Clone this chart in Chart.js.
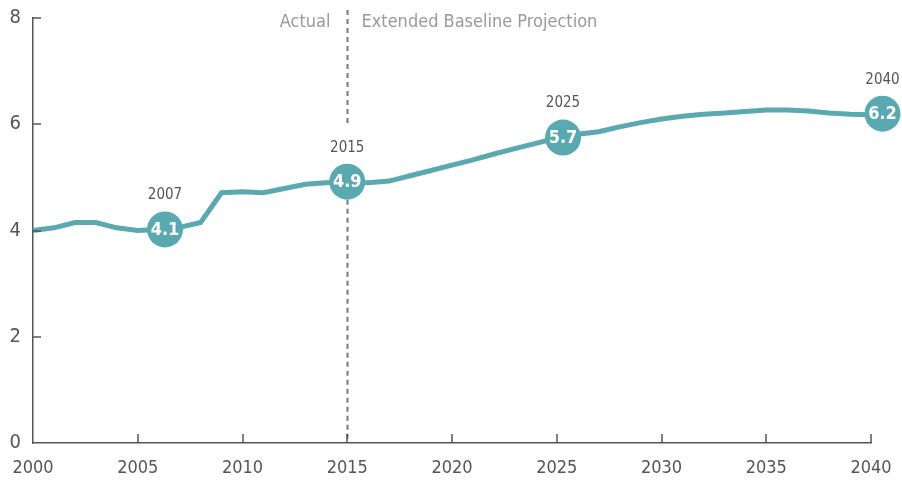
<!DOCTYPE html>
<html>
<head>
<meta charset="utf-8">
<script src="https://cdn.jsdelivr.net/npm/chart.js@4"></script>
<style>
  html, body { margin: 0; padding: 0; background: #fff; }
  #wrap { width: 902px; height: 482px; }
</style>
</head>
<body>
<div id="wrap"><canvas id="grafico" width="902" height="482"></canvas></div>
<script>
const anos = [2000, 2001, 2002, 2003, 2004, 2005, 2006, 2007, 2008, 2009,
              2010, 2011, 2012, 2013, 2014, 2015, 2016, 2017, 2018, 2019,
              2020, 2021, 2022, 2023, 2024, 2025, 2026, 2027, 2028, 2029,
              2030, 2031, 2032, 2033, 2034, 2035, 2036, 2037, 2038, 2039, 2040];
const valores = [4.00, 4.05, 4.15, 4.15, 4.05, 4.00, 4.02, 4.06, 4.15, 4.71,
                 4.73, 4.71, 4.79, 4.87, 4.90, 4.92, 4.90, 4.93, 5.03, 5.13,
                 5.23, 5.33, 5.44, 5.54, 5.64, 5.74, 5.81, 5.86, 5.95, 6.03,
                 6.10, 6.15, 6.19, 6.21, 6.24, 6.27, 6.27, 6.25, 6.21, 6.19, 6.18];

// destaques (bolinhas)
const destaqueAno = ['2007', '2015', '2025', '2040'];
const destaqueX = [2006.3, 2015, 2025.3, 2040.55];
const destaqueY = [4.02, 4.92, 5.75, 6.2];
const destaqueTexto = ['4.1', '4.9', '5.7', '6.2'];

const anoDivisao = 2015;
const textoAntes = 'Actual';
const textoDepois = 'Extended Baseline Projection';

const corLinha = '#5aa9b1';
const corEixo = '#555';
const fonte = "'Liberation Sans Narrow', 'DejaVu Sans Condensed', sans-serif";

Chart.defaults.font.family = fonte;

const pluginAnotacoes = {
    id: 'anotacoes',
    beforeDatasetsDraw(chart) {
        const ctx = chart.ctx;
        const xs = chart.scales.x;
        const ys = chart.scales.y;
        const x = Math.round(xs.getPixelForValue(anoDivisao)) + 0.5;
        const yMarc = ys.getPixelForValue(destaqueY[1]);
        ctx.save();
        ctx.strokeStyle = '#777';
        ctx.lineWidth = 2;
        ctx.setLineDash([5, 4]);
        ctx.beginPath();
        ctx.moveTo(x, 10);
        ctx.lineTo(x, yMarc - 58);
        ctx.moveTo(x, yMarc + 18);
        ctx.lineTo(x, ys.bottom);
        ctx.stroke();
        ctx.setLineDash([]);

        ctx.fillStyle = '#999';
        ctx.font = '18px ' + fonte;
        ctx.textBaseline = 'middle';
        ctx.textAlign = 'right';
        ctx.fillText(textoAntes, x - 17, 22);
        ctx.textAlign = 'left';
        ctx.fillText(textoDepois, x + 14, 22);
        ctx.restore();
    },
    afterDatasetsDraw(chart) {
        const ctx = chart.ctx;
        const pontos = chart.getDatasetMeta(0).data;
        ctx.save();
        ctx.textAlign = 'center';
        ctx.textBaseline = 'middle';
        pontos.forEach((p, i) => {
            ctx.fillStyle = '#fff';
            ctx.font = 'bold 18px ' + fonte;
            ctx.fillText(destaqueTexto[i], p.x, p.y + 1);
            ctx.fillStyle = '#555';
            ctx.font = '15px ' + fonte;
            ctx.fillText(destaqueAno[i], p.x, p.y - 34);
        });

        // marcas dos eixos para dentro
        const xs = chart.scales.x;
        const ys = chart.scales.y;
        ctx.strokeStyle = corEixo;
        ctx.lineWidth = 1.5;
        ctx.beginPath();
        ys.ticks.forEach(t => {
            if (t.value === 0) return;
            const y = Math.round(ys.getPixelForValue(t.value));
            ctx.moveTo(xs.left, y);
            ctx.lineTo(xs.left + 8, y);
        });
        xs.ticks.forEach(t => {
            if (t.value === 2000) return;
            const x = Math.round(xs.getPixelForValue(t.value));
            ctx.moveTo(x, ys.bottom);
            ctx.lineTo(x, ys.bottom - 9);
        });
        ctx.stroke();
        ctx.restore();
    }
};

const ctx = document.getElementById('grafico').getContext('2d');
new Chart(ctx, {
    type: 'line',
    data: {
        datasets: [{
            type: 'scatter',
            label: 'Destaques',
            data: destaqueX.map((x, i) => ({ x: x, y: destaqueY[i] })),
            backgroundColor: corLinha,
            borderWidth: 0,
            pointRadius: 18,
            pointHoverRadius: 18,
            clip: false,
            order: 0
        }, {
            label: 'Valores',
            data: anos.map((a, i) => ({ x: a, y: valores[i] })),
            borderColor: corLinha,
            borderWidth: 5,
            pointRadius: 0,
            tension: 0,
            fill: false,
            clip: false,
            order: 1
        }]
    },
    options: {
        responsive: false,
        animation: false,
        events: [],
        layout: { padding: { top: 15, right: 31, left: 0, bottom: 0 } },
        plugins: {
            legend: { display: false },
            tooltip: { enabled: false }
        },
        scales: {
            x: {
                type: 'linear',
                min: 2000,
                max: 2040,
                afterFit: s => { s.height = 39; s.paddingLeft = 0; s.paddingRight = 0; },
                grid: { display: false, drawTicks: false },
                border: { display: true, color: corEixo, width: 1.5 },
                ticks: {
                    stepSize: 5,
                    padding: 15,
                    color: corEixo,
                    font: { size: 18 },
                    maxRotation: 0,
                    callback: v => String(v)
                }
            },
            y: {
                min: 0,
                max: 8,
                afterFit: s => { s.width = 33; s.paddingTop = 0; s.paddingBottom = 0; },
                grid: { display: false, drawTicks: false },
                border: { display: true, color: corEixo, width: 1.5 },
                ticks: {
                    stepSize: 2,
                    padding: 12,
                    color: corEixo,
                    font: { size: 20 }
                }
            }
        }
    },
    plugins: [pluginAnotacoes]
});
</script>
</body>
</html>
